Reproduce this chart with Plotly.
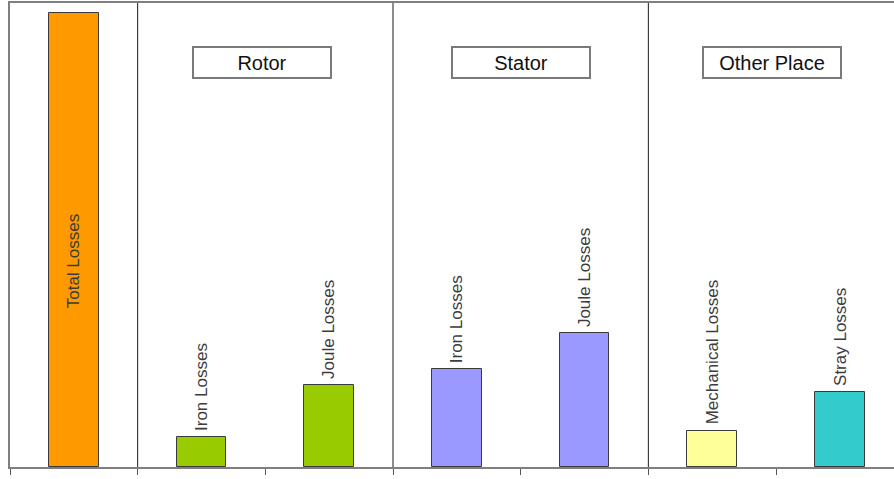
import plotly.graph_objects as go

# Loss breakdown (share of total losses, %)
categories = ["total", "rotor_iron", "rotor_joule", "stator_iron", "stator_joule", "mechanical", "stray"]
bar_labels = ["Total Losses", "Iron Losses", "Joule Losses", "Iron Losses", "Joule Losses",
              "Mechanical Losses", "Stray Losses"]
component_values = [6.5, 18.0, 21.5, 29.5, 8.0, 16.5]
total_value = sum(component_values)
values = [total_value] + component_values
colors = ["#FF9900", "#99CC00", "#99CC00", "#9999FF", "#9999FF", "#FFFF99", "#33CCCC"]

group_titles = ["Rotor", "Stator", "Other Place"]
group_centers = [1.5, 3.5, 5.5]
group_dividers = [0.5, 2.5, 4.5]

W, H = 894, 479
ML, MR, MT, MB = 10, 0, 3, 12
cat_px = 127.67
plot_w = W - ML - MR
plot_h = H - MT - MB
x_range = [-0.5, -0.5 + plot_w / cat_px]
y_top = total_value * plot_h / 454.0

fig = go.Figure()
fig.add_trace(go.Bar(
    x=categories, y=values, width=0.39,
    marker=dict(color=colors, line=dict(color="#3a3a3a", width=1)),
    hoverinfo="skip", showlegend=False,
))

label_font = dict(family="Liberation Sans, Arial, sans-serif", size=17, color="#3c3c3c")

# Total label sits inside its bar; the others stand above their bars
fig.add_annotation(x=categories[0], y=total_value * 0.455, text=bar_labels[0],
                   textangle=-90, showarrow=False, font=label_font,
                   xanchor="center", yanchor="middle")
for cat, lab, val in zip(categories[1:], bar_labels[1:], values[1:]):
    fig.add_annotation(x=cat, y=val, text=lab, textangle=-90, showarrow=False,
                       font=label_font, xanchor="center", yanchor="bottom", yshift=4)

# Section dividers
for xd in group_dividers:
    fig.add_shape(type="line", xref="x", yref="paper", x0=xd, x1=xd, y0=0, y1=1,
                  line=dict(color="#1a1a1a", width=1), layer="below")

# Section title boxes
title_y = (plot_h - (62 - MT)) / plot_h
for title, xc, dx in zip(group_titles, group_centers, [-3, 0, -4]):
    fig.add_annotation(x=xc, xref="x", y=title_y, yref="paper", xshift=dx,
                       text=title, showarrow=False,
                       font=dict(family="Liberation Sans, Arial, sans-serif", size=20, color="#111111"),
                       bgcolor="#ffffff", bordercolor="#7a7a7a", borderwidth=2, borderpad=1,
                       width=134, height=27, xanchor="center", yanchor="middle")

fig.update_layout(
    width=W, height=H,
    margin=dict(l=ML, r=MR, t=MT, b=MB, pad=0),
    paper_bgcolor="#ffffff", plot_bgcolor="#ffffff",
    bargap=0,
    xaxis=dict(type="category", range=x_range, showticklabels=False,
               showline=True, linecolor="#7f7f7f", linewidth=2, mirror=True,
               ticks="outside", tickson="boundaries", ticklen=6, tickcolor="#555555",
               tickwidth=1, showgrid=False, zeroline=False, fixedrange=True),
    yaxis=dict(range=[0, y_top], showticklabels=False, showline=True,
               linecolor="#7f7f7f", linewidth=2, ticks="", showgrid=False,
               zeroline=False, fixedrange=True),
)

fig.write_html("out.html")
